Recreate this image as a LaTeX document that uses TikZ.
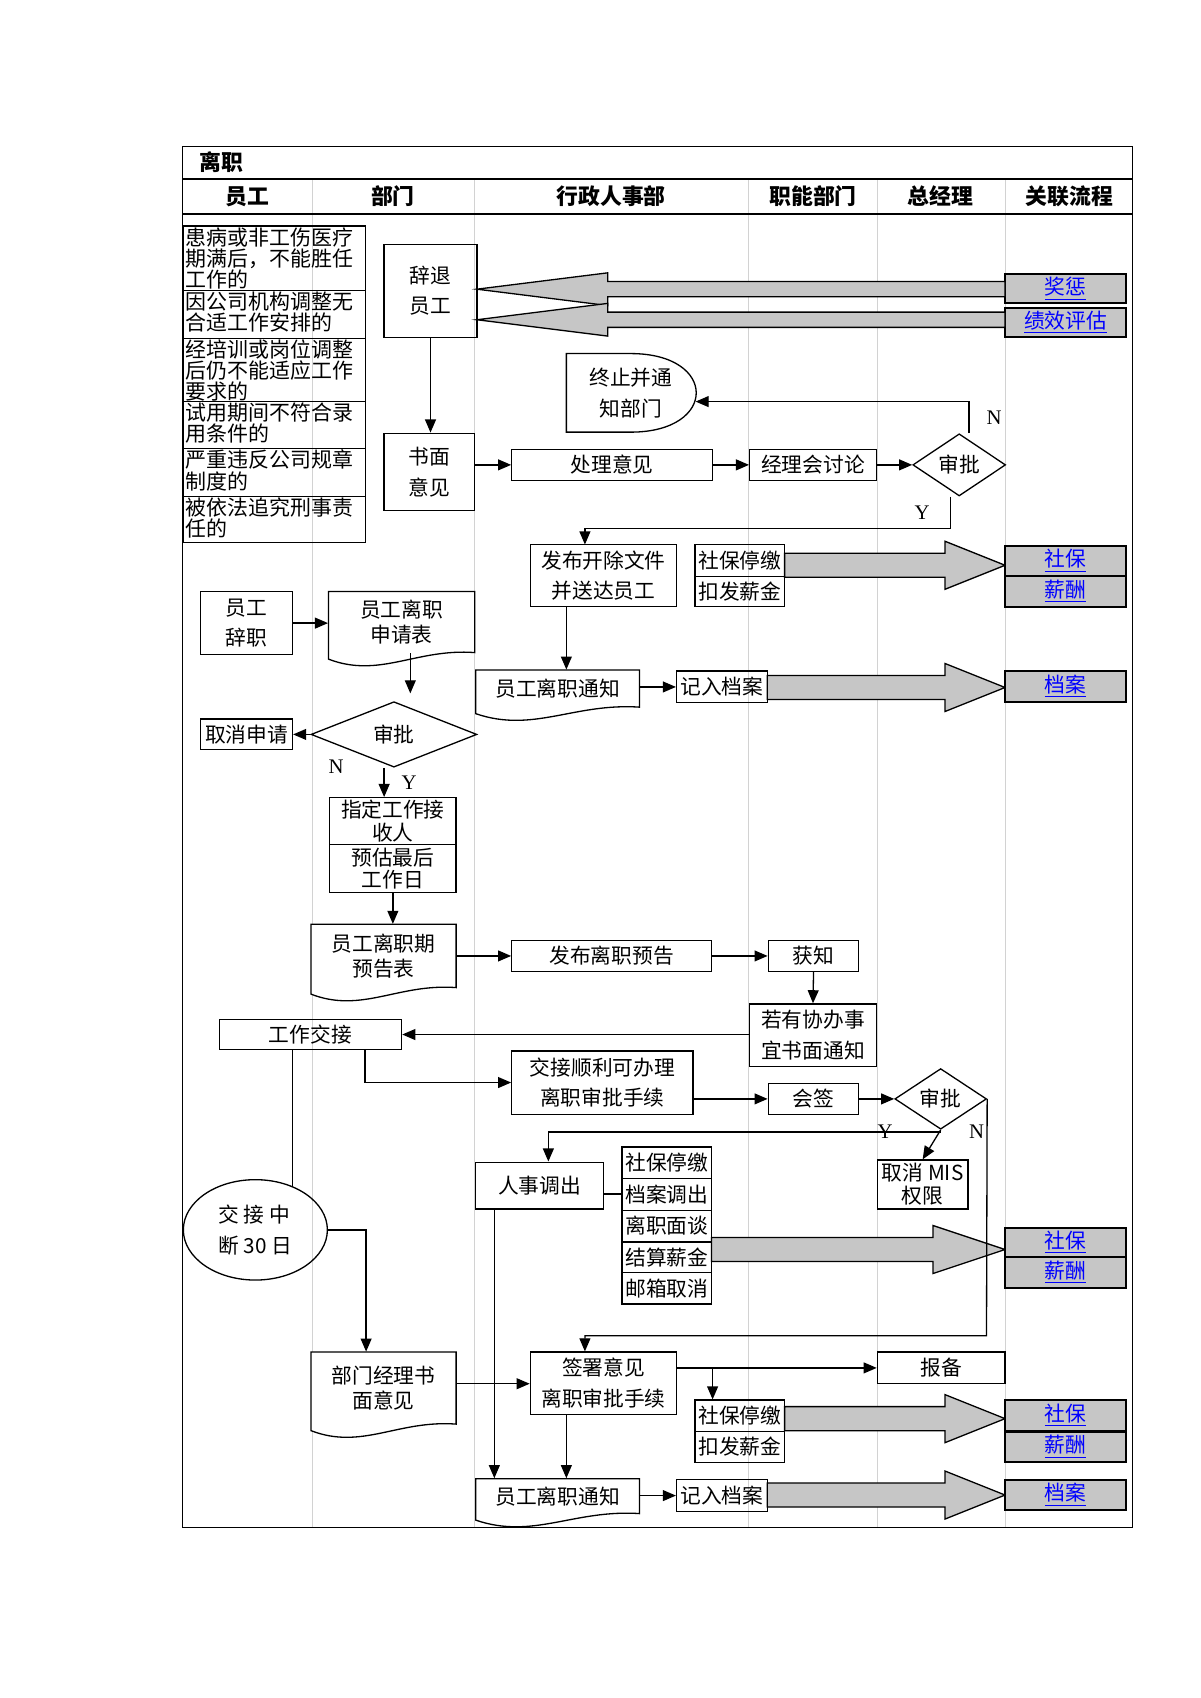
\documentclass[tikz,border=0pt]{standalone}
\usepackage{fontspec}
\setmainfont{Liberation Serif}
\newfontfamily\cjk{Noto Sans CJK SC}
\usetikzlibrary{fit,shapes.geometric,arrows.meta}
\tikzset{
 bx/.style={draw,line width=0.6pt,inner sep=0pt},
 lk/.style={draw,fill=gray!45,line width=1pt,inner sep=0pt},
 arr/.style={-{Triangle[length=6pt,width=5pt]},line width=0.6pt},
 ln/.style={line width=0.6pt},
 fat/.style={fill=gray!45,draw,line width=0.6pt},
 col/.style={gray!35,line width=0.4pt},
 hd/.style={font=\cjk\bfseries\fontsize{10}{12}\selectfont},
 rs/.style={font=\cjk\fontsize{9.6}{9.7}\selectfont,align=left,inner sep=1pt,anchor=north west},
 tx/.style={font=\cjk\fontsize{9.5}{11.5}\selectfont,align=center,inner sep=0pt},
 wide/.style={font=\cjk\fontsize{9.5}{14}\selectfont},
 yn/.style={font=\fontsize{9.5}{11}\selectfont}
}
\newcommand\BXX[7][]{\node[bx,fit={(#3,#4)(#5,#6)}] (#2) {};\node[tx,#1] (#2t) at (#2.center) {#7};}
\newcommand\LKK[6]{\node[lk,fit={(#2,#3)(#4,#5)}] (#1) {};\node[tx,text=blue] (#1t) at (#1.center) {\underline{#6}};}
\newcommand\FRR[4]{\draw[fat] (#1,{#4-11}) -- (#3,{#4-11}) -- (#3,{#4-22}) -- (#2,#4) -- (#3,{#4+22}) -- (#3,{#4+11}) -- (#1,{#4+11}) -- cycle;}
\newcommand\FLL[4]{\draw[fat] (#1,{#4-7}) -- (#3,{#4-7}) -- (#3,{#4-15}) -- (#2,#4) -- (#3,{#4+15}) -- (#3,{#4+7}) -- (#1,{#4+7}) -- cycle;}
\newcommand\DOCC[6]{\draw[ln,fill=white] (#2,#3) -- (#4,#3) -- (#4,#5) .. controls ({#2+0.6*(#4-#2)},{#5-4}) and ({#2+0.35*(#4-#2)},{#5+24}) .. (#2,{#5+6}) -- cycle;
 \node[inner sep=0pt,fit={(#2,#3)(#4,#5)}] (#1) {};\node[tx] (#1t) at (#1.center) {#6};}
\begin{document}
\begin{tikzpicture}[x=0.5pt,y=-0.5pt]
\useasboundingbox (0,0) rectangle (1100,1556);
\fill[white] (0,0) rectangle (1100,1556);
\foreach \x in {286,435,686,804,921} \draw[col] (\x,164) -- (\x,1400);
\draw[line width=0.6pt] (167,134) rectangle (1038,1400);
\draw[line width=0.6pt] (167,164) -- (1038,164);
\draw[line width=0.6pt] (167,196) -- (1038,196);
\node[hd,anchor=west] (title) at (176,149) {离职};
\node[hd] (h1) at (227,180) {员工};
\node[hd] (h2) at (360,180) {部门};
\node[hd] (h3) at (560,180) {行政人事部};
\node[hd] (h4) at (745,180) {职能部门};
\node[hd] (h5) at (862,180) {总经理};
\node[hd] (h6) at (980,180) {关联流程};
\foreach \a/\b/\t [count=\i] in {207/266/{患病或非工伤医疗\\期满后，不能胜任\\工作的},266/310/{因公司机构调整无\\合适工作安排的},310/368/{经培训或岗位调整\\后仍不能适应工作\\要求的},368/411/{试用期间不符合录\\用条件的},411/455/{严重违反公司规章\\制度的},455/497/{被依法追究刑事责\\任的}}{
 \node[draw,line width=0.6pt,inner sep=0pt,fit={(168,\a)(335,\b)}] (r\i) {};
 \node[rs] (rt\i) at (168,{\a-1}) {\t};
}
\BXX[wide]{cz}{352}{224}{437}{309}{辞退\\员工}
\BXX[wide]{sm}{352}{397}{435}{468}{书面\\意见}
\LKK{jc}{921}{251}{1032}{278}{奖惩}
\LKK{jx}{921}{282}{1032}{309}{绩效评估}
\FLL{921}{437}{557}{265}
\FLL{921}{437}{557}{293}
\draw[ln] (519,324) -- (578,324) .. controls (658,324) and (658,396) .. (578,396) -- (519,396) -- cycle;
\node[inner sep=0pt,fit={(519,324)(637,396)}] (zz) {};
\node[tx,wide] (zzt) at (578,360) {终止并通\\知部门};
\BXX{cl}{469}{412}{653}{440}{处理意见}
\BXX{jl}{687}{412}{803}{440}{经理会讨论}
\node[draw,line width=0.6pt,diamond,inner sep=0pt,minimum width=42.5pt,minimum height=28.5pt,tx] (sp1) at (879,426) {审批};
\draw[arr] (cz.south) -- (cz.south |- sm.north);
\draw[arr] (sm.east |- cl.west) -- (cl.west);
\draw[arr] (cl.east) -- (jl.west);
\draw[arr] (jl.east) -- (sp1.west);
\draw[arr] ([xshift=4.5pt]sp1.north) |- ([yshift=-4pt]zz.east);
\node[yn] (n1) at (911,383) {N};
\coordinate (c1) at (536,484);
\draw[arr] ([xshift=-4pt]sp1.south) |- (c1) -- (c1 |- 0,499);
\node[yn] (y1) at (845,470) {Y};
\BXX[wide]{fb}{486}{499}{620}{556}{发布开除文件\\并送达员工}
\BXX{s1}{637}{499}{719}{528}{社保停缴}
\BXX{k1}{637}{528}{719}{556}{扣发薪金}
\FRR{719}{921}{866}{518}
\LKK{sb1}{921}{500}{1032}{528}{社保}
\LKK{xc1}{921}{528}{1032}{556}{薪酬}
\DOCC{tz1}{436}{614}{586}{648}{员工离职通知}
\draw[arr] ([xshift=-17pt]fb.south) -- ([xshift=-17pt]fb.south |- tz1.north);
\BXX{da1}{620}{615}{703}{644}{记入档案}
\draw[arr] (tz1.east |- da1.west) -- (da1.west);
\FRR{703}{921}{866}{630}
\LKK{dl1}{921}{615}{1032}{643}{档案}
\BXX[wide]{yg}{184}{542}{268}{600}{员工\\辞职}
\DOCC{sq}{301}{542}{435}{598}{员工离职\\申请表}
\draw[arr] (yg.east) -- (sq.west |- yg.east);
\node[draw,line width=0.6pt,diamond,inner sep=0pt,minimum width=76pt,minimum height=30pt,tx] (sp2) at (361,673) {审批};
\draw[arr] ([xshift=4pt]sq.south) -- ++(0,37);
\BXX{qx}{184}{659}{268}{687}{取消申请}
\draw[arr] (sp2.west) -- (qx.east);
\node[yn] (n2) at (308,703) {N};
\node[yn] (y2) at (375,717) {Y};
\BXX[font=\cjk\fontsize{9.5}{10.5}\selectfont]{zd}{302}{731}{418}{774}{指定工作接\\收人}
\BXX[font=\cjk\fontsize{9.5}{10.5}\selectfont]{yj}{302}{774}{418}{818}{预估最后\\工作日}
\draw[arr] ([xshift=-4.5pt]sp2.south) -- ([xshift=-4.5pt]sp2.south |- zd.north);
\DOCC{yg2}{285}{847}{418}{905}{员工离职期\\预告表}
\draw[arr] (yj.south) -- (yj.south |- yg2.north);
\BXX{fy}{469}{862}{652}{890}{发布离职预告}
\BXX{hz}{704}{862}{787}{890}{获知}
\draw[arr] (yg2.east |- fy.west) -- (fy.west);
\draw[arr] (fy.east) -- (hz.west);
\BXX[wide]{ry}{687}{920}{803}{977}{若有协办事\\宜书面通知}
\draw[arr] (hz.south) -- (ry.north);
\BXX{gj}{201}{934}{368}{962}{工作交接}
\draw[arr] (ry.west |- gj.east) -- (gj.east);
\BXX[wide]{jj}{469}{963}{635}{1021}{交接顺利可办理\\离职审批手续}
\draw[arr] ([xshift=25pt]gj.south) |- (jj.west);
\BXX{hq}{704}{993}{787}{1021}{会签}
\node[draw,line width=0.6pt,diamond,inner sep=0pt,minimum width=42pt,minimum height=27.5pt,tx] (sp3) at (862,1007) {审批};
\draw[arr] (jj.east |- hq.west) -- (hq.west);
\draw[arr] (hq.east) -- (sp3.west);
\BXX[font=\cjk\fontsize{9.5}{10.5}\selectfont]{mis}{804}{1063}{887}{1108}{取消 MIS\\权限}
\draw[arr] (sp3.south) -- (mis.north);
\node[yn] (y3) at (811,1037) {Y};
\node[yn] (n3) at (895,1037) {N};
\BXX{rs}{436}{1065}{553}{1108}{人事调出}
\draw[arr] ([yshift=-1pt]sp3.south) -| ([xshift=4pt]rs.north);
\BXX{l1}{570}{1051}{652}{1080}{社保停缴}
\BXX{l2}{570}{1080}{652}{1109}{档案调出}
\BXX{l3}{570}{1109}{652}{1138}{离职面谈}
\BXX{l4}{570}{1138}{652}{1166}{结算薪金}
\BXX{l5}{570}{1166}{652}{1195}{邮箱取消}
\draw[ln] (rs.east |- 0,1094) -- (l2.west |- 0,1094);
\FRR{652}{921}{855}{1145}
\LKK{sb2}{921}{1125}{1032}{1152}{社保}
\LKK{xc2}{921}{1152}{1032}{1180}{薪酬}
\node[draw,line width=0.6pt,ellipse,inner sep=0pt,minimum width=66pt,minimum height=46pt] (el) at (234,1127) {};
\node[tx,align=left,wide] (elt) at (234,1127) {交\ 接\ 中\\断 30 日};
\draw[ln] ([xshift=-8.25pt]gj.south) -- ++(0,125);
\BXX[wide]{qs}{486}{1239}{620}{1296}{签署意见\\离职审批手续}
\coordinate (c2) at (904,1224);
\draw[arr] (sp3.east) -- (c2) -| ([xshift=-8.5pt]qs.north);
\DOCC{bj}{285}{1239}{418}{1305}{部门经理书\\面意见}
\draw[arr] (el.east) -| ([xshift=-8pt]bj.north);
\draw[arr] (bj.east |- 0,1268) -- (qs.west |- 0,1268);
\BXX{bb}{804}{1239}{921}{1268}{报备}
\draw[arr] (qs.east |- bb.west) -- (bb.west);
\BXX{s3}{637}{1283}{719}{1312}{社保停缴}
\BXX{k3}{637}{1312}{719}{1340}{扣发薪金}
\coordinate (c3) at (653,1253);
\draw[arr] (c3) -- (c3 |- s3.north);
\FRR{719}{921}{866}{1300}
\LKK{sb3}{921}{1283}{1032}{1311}{社保}
\LKK{xc3}{921}{1312}{1032}{1340}{薪酬}
\DOCC{tz2}{436}{1355}{586}{1387}{员工离职通知}
\draw[arr] ([xshift=-17pt]qs.south) -- ([xshift=-17pt]qs.south |- tz2.north);
\draw[arr] ([xshift=-20.75pt]rs.south) -- ([xshift=-20.75pt]rs.south |- tz2.north);
\BXX{da2}{620}{1356}{703}{1385}{记入档案}
\draw[arr] (tz2.east |- da2.west) -- (da2.west);
\FRR{703}{921}{866}{1370}
\LKK{dl2}{921}{1356}{1032}{1384}{档案}
\end{tikzpicture}
\end{document}
